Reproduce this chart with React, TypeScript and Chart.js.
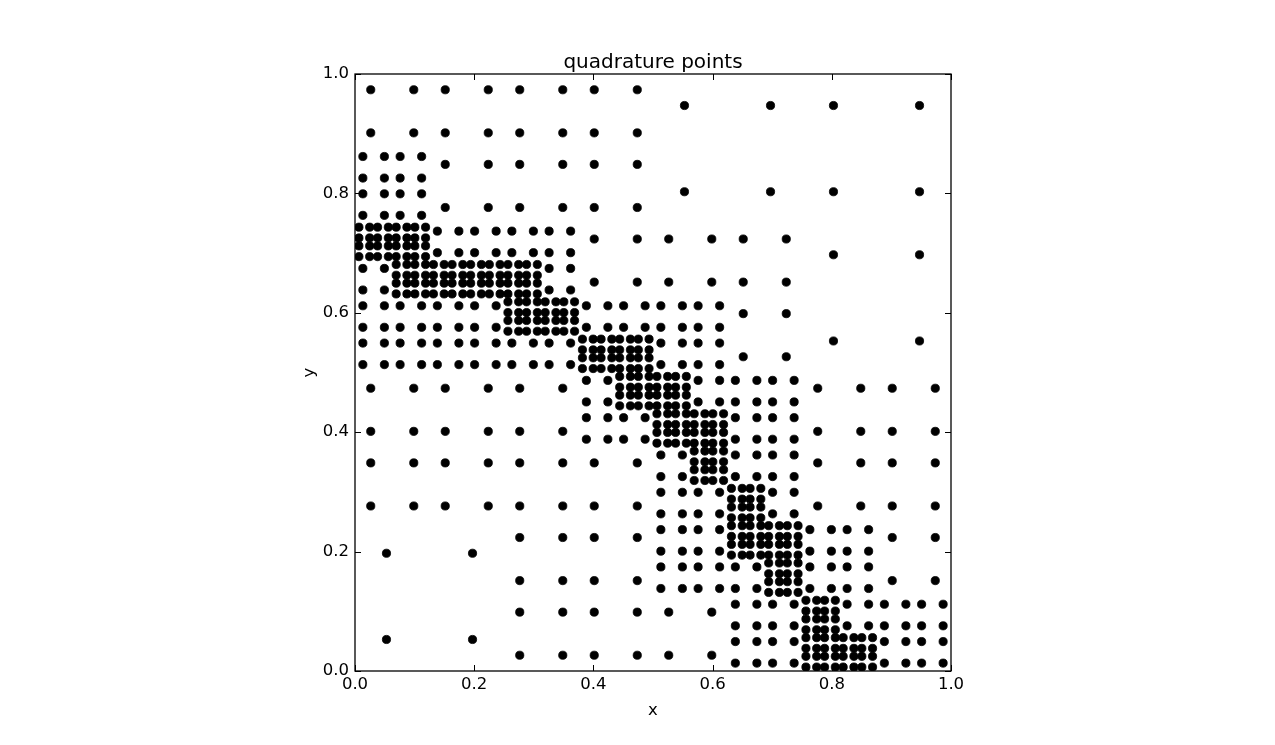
import React, { useEffect, useRef } from "react";
import { Chart, registerables } from "chart.js";

Chart.register(...registerables);

// ---- axis ticks ----
const TICK_VALUES = [0, 0.2, 0.4, 0.6, 0.8, 1.0];
const TICK_LABELS = ["0.0", "0.2", "0.4", "0.6", "0.8", "1.0"];

// ---- x positions of quadrature points, grouped by the rows they occur in ----
const xA8 = [0.0264, 0.0986, 0.1514, 0.2236, 0.2764, 0.3486, 0.4014, 0.4736];
const xTR = [0.5528, 0.6972, 0.8028, 0.9472];
const xB4 = [0.0132, 0.0493, 0.0757, 0.1118];
const xC6 = [0.1514, 0.2236, 0.2764, 0.3486, 0.4014, 0.4736];
const dense8a = [0.0066, 0.0246, 0.0379, 0.0559, 0.0691, 0.0871, 0.1004, 0.1184];
const xD8 = [0.1382, 0.1743, 0.2007, 0.2368, 0.2632, 0.2993, 0.3257, 0.3618];
const xE6 = [0.4014, 0.4736, 0.5264, 0.5986, 0.6514, 0.7236];
const x25R = [0.8028, 0.9472];
const dense16b = [0.0691, 0.0871, 0.1004, 0.1184, 0.1316, 0.1496, 0.1629, 0.1809, 0.1941, 0.2121, 0.2254, 0.2434, 0.2566, 0.2746, 0.2879, 0.3059];
const xF4 = [0.0132, 0.0493, 0.3257, 0.3618];
const xG16 = [0.0132, 0.0493, 0.0757, 0.1118, 0.1382, 0.1743, 0.2007, 0.2368, 0.3882, 0.4243, 0.4507, 0.4868, 0.5132, 0.5493, 0.5757, 0.6118];
const dense8c = [0.2566, 0.2746, 0.2879, 0.3059, 0.3191, 0.3371, 0.3504, 0.3684];
const xH2 = [0.6514, 0.7236];
const xI16 = [0.0132, 0.0493, 0.0757, 0.1118, 0.1382, 0.1743, 0.2007, 0.2368, 0.2632, 0.2993, 0.3257, 0.3618, 0.5132, 0.5493, 0.5757, 0.6118];
const dense8d = [0.3816, 0.3996, 0.4129, 0.4309, 0.4441, 0.4621, 0.4754, 0.4934];
const xJ8 = [0.3882, 0.4243, 0.5757, 0.6118, 0.6382, 0.6743, 0.7007, 0.7368];
const dense8e = [0.4441, 0.4621, 0.4754, 0.4934, 0.5066, 0.5246, 0.5379, 0.5559];
const xK10 = [0.0264, 0.0986, 0.1514, 0.2236, 0.2764, 0.3486, 0.7764, 0.8486, 0.9014, 0.9736];
const xL8 = [0.3882, 0.4243, 0.4507, 0.4868, 0.6382, 0.6743, 0.7007, 0.7368];
const dense8f = [0.5066, 0.5246, 0.5379, 0.5559, 0.5691, 0.5871, 0.6004, 0.6184];
const dense4g = [0.5691, 0.5871, 0.6004, 0.6184];
const xM6 = [0.5132, 0.5493, 0.6382, 0.6743, 0.7007, 0.7368];
const xN12 = [0.0264, 0.0986, 0.1514, 0.2236, 0.2764, 0.3486, 0.4014, 0.4736, 0.7764, 0.8486, 0.9014, 0.9736];
const dense4h = [0.6316, 0.6496, 0.6629, 0.6809];
const xO6 = [0.5132, 0.5493, 0.5757, 0.6118, 0.7007, 0.7368];
const dense8i = [0.6316, 0.6496, 0.6629, 0.6809, 0.6941, 0.7121, 0.7254, 0.7434];
const xP8 = [0.5132, 0.5493, 0.5757, 0.6118, 0.7632, 0.7993, 0.8257, 0.8618];
const xQ6 = [0.2764, 0.3486, 0.4014, 0.4736, 0.9014, 0.9736];
const x25L = [0.0528, 0.1972];
const dense4j = [0.6941, 0.7121, 0.7254, 0.7434];
const xR10 = [0.5132, 0.5493, 0.5757, 0.6118, 0.6382, 0.6743, 0.7632, 0.7993, 0.8257, 0.8618];
const dense4k = [0.7566, 0.7746, 0.7879, 0.8059];
const xS10 = [0.6382, 0.6743, 0.7007, 0.7368, 0.8257, 0.8618, 0.8882, 0.9243, 0.9507, 0.9868];
const xT6 = [0.2764, 0.3486, 0.4014, 0.4736, 0.5264, 0.5986];
const dense8l = [0.7566, 0.7746, 0.7879, 0.8059, 0.8191, 0.8371, 0.8504, 0.8684];
const xU8 = [0.6382, 0.6743, 0.7007, 0.7368, 0.8882, 0.9243, 0.9507, 0.9868];

// ---- rows: [y, x positions in that row] ----
const ROWS: [number, number[]][] = [
  [0.9736, xA8], [0.9472, xTR], [0.9014, xA8],
  [0.8618, xB4], [0.8486, xC6], [0.8257, xB4], [0.8028, xTR], [0.7993, xB4], [0.7764, xC6], [0.7632, xB4],
  [0.7434, dense8a], [0.7368, xD8], [0.7254, dense8a], [0.7236, xE6], [0.7121, dense8a], [0.7007, xD8], [0.6972, x25R], [0.6941, dense8a],
  [0.6809, dense16b], [0.6743, xF4], [0.6629, dense16b], [0.6514, xE6], [0.6496, dense16b], [0.6382, xF4], [0.6316, dense16b],
  [0.6184, dense8c], [0.6118, xG16], [0.6004, dense8c], [0.5986, xH2], [0.5871, dense8c], [0.5757, xG16], [0.5691, dense8c],
  [0.5559, dense8d], [0.5528, x25R], [0.5493, xI16], [0.5379, dense8d], [0.5264, xH2], [0.5246, dense8d], [0.5132, xI16], [0.5066, dense8d],
  [0.4934, dense8e], [0.4868, xJ8], [0.4754, dense8e], [0.4736, xK10], [0.4621, dense8e], [0.4507, xJ8], [0.4441, dense8e],
  [0.4309, dense8f], [0.4243, xL8], [0.4129, dense8f], [0.4014, xK10], [0.3996, dense8f], [0.3882, xL8], [0.3816, dense8f],
  [0.3684, dense4g], [0.3618, xM6], [0.3504, dense4g], [0.3486, xN12], [0.3371, dense4g], [0.3257, xM6], [0.3191, dense4g],
  [0.3059, dense4h], [0.2993, xO6], [0.2879, dense4h], [0.2764, xN12], [0.2746, dense4h], [0.2632, xO6], [0.2566, dense4h],
  [0.2434, dense8i], [0.2368, xP8], [0.2254, dense8i], [0.2236, xQ6], [0.2121, dense8i], [0.2007, xP8], [0.1972, x25L], [0.1941, dense8i],
  [0.1809, dense4j], [0.1743, xR10], [0.1629, dense4j], [0.1514, xQ6], [0.1496, dense4j], [0.1382, xR10], [0.1316, dense4j],
  [0.1184, dense4k], [0.1118, xS10], [0.1004, dense4k], [0.0986, xT6], [0.0871, dense4k], [0.0757, xS10], [0.0691, dense4k],
  [0.0559, dense8l], [0.0528, x25L], [0.0493, xU8], [0.0379, dense8l], [0.0264, xT6], [0.0246, dense8l], [0.0132, xU8], [0.0066, dense8l],
];

const FONT = "'DejaVu Sans', sans-serif";

const framePlugin = {
  id: "mplFrame",
  afterDatasetsDraw(chart: any) {
    const { ctx, chartArea, scales } = chart;
    const { left, top, right, bottom } = chartArea;
    const L = 6;
    ctx.save();
    ctx.strokeStyle = "#000";
    ctx.lineWidth = 1;
    ctx.beginPath();
    for (const v of TICK_VALUES) {
      const px = Math.round(scales.x.getPixelForValue(v)) + 0.5;
      ctx.moveTo(px, bottom);
      ctx.lineTo(px, bottom - L);
      ctx.moveTo(px, top);
      ctx.lineTo(px, top + L);
      const py = Math.round(scales.y.getPixelForValue(v)) + 0.5;
      ctx.moveTo(left, py);
      ctx.lineTo(left + L, py);
      ctx.moveTo(right, py);
      ctx.lineTo(right - L, py);
    }
    ctx.stroke();
    ctx.lineWidth = 1.3;
    ctx.strokeRect(left, top, right - left, bottom - top);
    ctx.restore();
  },
};

export default function App() {
  const ref = useRef<HTMLCanvasElement>(null);

  useEffect(() => {
    const canvas = ref.current;
    if (!canvas) return;
    const points = ROWS.flatMap(([y, xs]) => xs.map((x) => ({ x, y })));
    const tickFont = { family: FONT, size: 16.5 };

    const chart = new Chart(canvas, {
      type: "scatter",
      data: {
        datasets: [
          {
            label: "quadrature points",
            data: points,
            backgroundColor: "#000",
            borderColor: "#000",
            pointRadius: 4.1,
            pointBorderWidth: 0.8,
            pointHoverRadius: 4.1,
            clip: 0,
          } as any,
        ],
      },
      options: {
        animation: false,
        responsive: false,
        events: [],
        devicePixelRatio: 1,
        layout: { padding: { left: 0, top: 0, right: 324, bottom: 0 } },
        plugins: {
          legend: { display: false },
          tooltip: { enabled: false },
          title: {
            display: true,
            text: "quadrature points",
            color: "#000",
            fullSize: false,
            font: { family: FONT, size: 20, weight: "normal", lineHeight: 1.2 },
            padding: { top: 51, bottom: -1 },
          },
        },
        scales: {
          x: {
            type: "linear",
            min: 0,
            max: 1,
            afterBuildTicks: (scale: any) => {
              scale.ticks = TICK_VALUES.map((v) => ({ value: v }));
            },
            afterFit: (scale: any) => {
              scale.height = 74;
            },
            ticks: {
              color: "#000",
              font: tickFont,
              padding: 4,
              maxRotation: 0,
              autoSkip: false,
              callback: (v: any) => TICK_LABELS[TICK_VALUES.indexOf(Number(v))] ?? "",
            },
            grid: { display: false, drawTicks: false },
            border: { display: false },
            title: {
              display: true,
              text: "x",
              color: "#000",
              font: { family: FONT, size: 16.5, lineHeight: 1.2 },
              padding: { top: 0, bottom: 24 },
            },
          },
          y: {
            type: "linear",
            min: 0,
            max: 1,
            afterBuildTicks: (scale: any) => {
              scale.ticks = TICK_VALUES.map((v) => ({ value: v }));
            },
            afterFit: (scale: any) => {
              scale.width = 355;
            },
            ticks: {
              color: "#000",
              font: tickFont,
              padding: 6,
              autoSkip: false,
              callback: (v: any) => TICK_LABELS[TICK_VALUES.indexOf(Number(v))] ?? "",
            },
            grid: { display: false, drawTicks: false },
            border: { display: false },
            title: {
              display: true,
              text: "y",
              color: "#000",
              font: { family: FONT, size: 16.5, lineHeight: 1.2 },
              padding: { top: 300, bottom: 0 },
            },
          },
        },
      },
      plugins: [framePlugin],
    });

    return () => chart.destroy();
  }, []);

  return (
    <div style={{ position: "absolute", left: 0, top: 0, width: 1275, height: 745, background: "#fff" }}>
      <canvas ref={ref} width={1275} height={745} style={{ display: "block" }} />
    </div>
  );
}
